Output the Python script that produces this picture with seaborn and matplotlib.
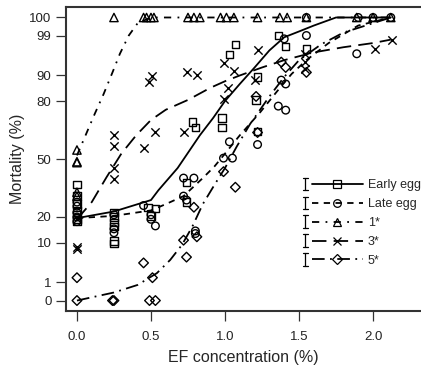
import numpy as np
import pandas as pd
import matplotlib
matplotlib.use("Agg")
import matplotlib.pyplot as plt
import seaborn as sns
from matplotlib.lines import Line2D
from matplotlib.legend_handler import HandlerLine2D

sns.set_theme(style="ticks")
plt.rcParams["font.family"] = ["Liberation Sans", "DejaVu Sans"]

# ---- observed points (x = EF %, y = mortality %) ----
early_x = [0, 0, 0, 0, 0, 0, 0, 0.25, 0.25, 0.25, 0.25, 0.25, 0.25, 0.48, 0.53, 0.5,
           0.74, 0.74, 0.78, 0.8, 0.98, 0.98, 1.03, 1.07, 1.22, 1.21, 1.22, 1.36, 1.41, 1.55]
early_y = [36, 30, 26, 23, 21, 19, 18, 22, 20, 17.5, 16, 10.5, 9.7, 24.4, 24, 20.5,
           37, 27, 70, 67, 72, 67, 95.9, 97.8, 89.5, 80.5, 65, 99, 97.4, 97]

late_x = [0, 0, 0, 0, 0, 0.25, 0.25, 0.25, 0.45, 0.5, 0.5, 0.53, 0.72, 0.79, 0.72, 0.74,
          0.8, 0.8, 0.99, 1.05, 1.03, 1.22, 1.36, 1.41, 1.38, 1.41, 1.4, 1.55, 1.55, 1.89,
          1.9, 2.0, 2.12]
late_y = [27, 25, 22, 20, 18, 21, 15, 13.5, 25.3, 21, 19, 16.2, 39.5, 39.5, 30, 28,
          14.2, 13.2, 50.5, 50.5, 59.5, 58, 77.7, 75.8, 88.4, 87, 98.6, 99, 100, 96,
          100, 100, 100]

one_x = [0, 0, 0, 0, 0, 0.25, 0.45, 0.47, 0.5, 0.52, 0.75, 0.79, 0.83, 0.97, 1.01, 1.06,
         1.22, 1.37, 1.42, 1.55, 1.89, 2.0, 2.12]
one_y = [55, 48.5, 48, 32, 30, 100, 100, 100, 100, 100, 100, 100, 100, 100, 100, 100,
         100, 100, 100, 100, 100, 100, 100]

three_x = [0, 0, 0, 0.25, 0.25, 0.25, 0.25, 0.45, 0.53, 0.49, 0.51, 0.74, 0.81, 0.72,
           0.99, 1.06, 1.02, 0.99, 1.22, 1.2, 1.54, 1.54, 1.54, 2.01, 2.13]
three_y = [8.5, 8.0, 19, 63, 57, 45, 39, 56, 65, 87.6, 89.7, 91, 90, 65,
           93.8, 91.5, 85.4, 81, 96.8, 88.4, 96, 94, 92, 97, 98.5]

five_x = [0, 0, 0.24, 0.25, 0.45, 0.49, 0.53, 0.51, 0.72, 0.74, 0.81, 0.79, 0.99, 1.07,
          1.22, 1.21, 1.38, 1.41, 1.55]
five_y = [1.6, 0, 0, 0, 4.3, 0, 0, 1.6, 10.8, 5.7, 12, 24.5, 43, 34.6,
          64.5, 82, 94, 92.5, 91]

# ---- fitted curves ----
early_fit_x = [0, 0.25, 0.5, 0.55, 0.68, 0.83, 0.92, 1.0, 1.1, 1.2, 1.3, 1.4, 1.5, 1.6, 1.75, 2.12]
early_fit_y = [19.5, 22.5, 28, 33, 45, 63, 72, 80, 87, 92.5, 96.7, 98.8, 99.4, 99.8, 100, 100]

late_fit_x = [0, 0.25, 0.5, 0.6, 0.72, 0.85, 0.93, 1.0, 1.1, 1.24, 1.35, 1.45, 1.55, 1.7, 1.9, 2.12]
late_fit_y = [19.5, 20.5, 23, 26, 30, 39.5, 46, 53, 63, 75, 84, 90.5, 94.5, 98, 99.8, 100]

one_fit_x = [0, 0.12, 0.18, 0.24, 0.29, 0.35, 0.41, 0.5, 1.0, 1.5, 2.12]
one_fit_y = [52, 74, 83, 91, 96, 99, 99.9, 100, 100, 100, 100]

three_fit_x = [0, 0.1, 0.2, 0.3, 0.4, 0.5, 0.6, 0.75, 0.9, 1.0, 1.1, 1.25, 1.4, 1.6, 1.8, 2.0, 2.12]
three_fit_y = [19, 27, 40, 53, 63, 71, 76, 80.5, 85.5, 88, 90, 92.5, 94.5, 96.3, 97.3, 98, 98.5]

five_fit_x = [0, 0.25, 0.41, 0.54, 0.63, 0.71, 0.78, 0.85, 0.93, 1.0, 1.08, 1.17, 1.3, 1.4,
              1.5, 1.65, 1.8, 1.95, 2.12]
five_fit_y = [0, 0.2, 0.75, 2.3, 5, 9.3, 16, 26, 36, 45, 57, 69, 82, 89.5,
              94.5, 97.8, 99.3, 99.8, 100]

groups = ["Early egg", "Late egg", "1*", "3*", "5*"]
y_ticks = [0, 1, 10, 20, 50, 80, 90, 99, 100]


def asin_t(p):
    return np.arcsin(np.sqrt(np.asarray(p, dtype=float) / 100.0))


pts = {
    "Early egg": (early_x, early_y),
    "Late egg": (late_x, late_y),
    "1*": (one_x, one_y),
    "3*": (three_x, three_y),
    "5*": (five_x, five_y),
}
fits = {
    "Early egg": (early_fit_x, early_fit_y),
    "Late egg": (late_fit_x, late_fit_y),
    "1*": (one_fit_x, one_fit_y),
    "3*": (three_fit_x, three_fit_y),
    "5*": (five_fit_x, five_fit_y),
}
markers = {"Early egg": "s", "Late egg": "o", "1*": "^", "3*": "x", "5*": "D"}
msizes = {"Early egg": 28, "Late egg": 30, "1*": 36, "3*": 36, "5*": 24}
lstyles = {
    "Early egg": "-",
    "Late egg": (0, (3.5, 3)),
    "1*": (0, (4, 3.5, 1, 3.5)),
    "3*": (0, (8, 4)),
    "5*": (0, (7, 3, 1, 3)),
}

fig = plt.figure(figsize=(4.21, 3.68), dpi=100)
ax = fig.add_axes([66 / 421, 57 / 368, 355 / 421, 304 / 368])

for g in groups:
    fx, fy = fits[g]
    fdf = pd.DataFrame({"x": fx, "t": asin_t(fy)})
    sns.lineplot(data=fdf, x="x", y="t", ax=ax, color="black", linewidth=1.3,
                 linestyle=lstyles[g], estimator=None, sort=False)
    px, py = pts[g]
    pdf = pd.DataFrame({"x": px, "t": asin_t(py)})
    if markers[g] == "x":
        sns.scatterplot(data=pdf, x="x", y="t", ax=ax, marker="x", s=msizes[g],
                        color="black", linewidth=1.0)
    else:
        sns.scatterplot(data=pdf, x="x", y="t", ax=ax, marker=markers[g], s=msizes[g],
                        color="black", facecolor="none", edgecolor="black", linewidth=1.0)

ax.set_xlim(-0.074, 2.324)
ax.set_ylim(-0.058, 1.629)
ax.set_xticks([0, 0.5, 1.0, 1.5, 2.0])
ax.set_xticklabels(["0.0", "0.5", "1.0", "1.5", "2.0"])
ax.set_yticks(asin_t(y_ticks))
ax.set_yticklabels([str(v) for v in y_ticks])
ax.tick_params(axis="both", labelsize=9.5, length=7.5, width=0.9, color="#333333",
               labelcolor="#222222")
ax.tick_params(axis="x", pad=7)
ax.tick_params(axis="y", pad=3)
ax.set_xlabel("EF concentration (%)", fontsize=11.5, labelpad=5)
ax.set_ylabel("Mortality (%)", fontsize=11.5, labelpad=3)
for side in ["left", "bottom", "top"]:
    ax.spines[side].set_linewidth(1.5)
    ax.spines[side].set_color("#333333")
ax.spines["right"].set_visible(False)


class HandlerErrLine(HandlerLine2D):
    def create_artists(self, legend, orig, xd, yd, w, h, fs, trans):
        y = h / 2 - yd
        x0 = -xd
        bh = 4.5
        parts = [
            Line2D([x0, x0], [y - bh, y + bh]),
            Line2D([x0 - 1.8, x0 + 1.8], [y + bh, y + bh]),
            Line2D([x0 - 1.8, x0 + 1.8], [y - bh, y - bh]),
        ]
        for p in parts:
            p.set_color("black")
            p.set_linewidth(0.9)
        ln = Line2D([x0 + 4.5, x0 + w], [y, y])
        ln.update_from(orig)
        ln.set_marker("")
        mk = Line2D([x0 + 4.5 + (w - 4.5) / 2], [y])
        mk.update_from(orig)
        mk.set_linestyle("none")
        arts = parts + [ln, mk]
        for a in arts:
            a.set_transform(trans)
        return arts


handles = []
for g in groups:
    handles.append(Line2D([], [], color="black", linewidth=1.3, linestyle=lstyles[g],
                          marker=markers[g], markersize=5.5, markerfacecolor="none",
                          markeredgecolor="black", markeredgewidth=0.9))
fig.legend(handles, groups, loc="center left", bbox_to_anchor=(299 / 421, 1 - 223 / 368),
           frameon=False, fontsize=9, handlelength=4.6, handletextpad=0.4,
           labelspacing=0.55, borderpad=0,
           handler_map={Line2D: HandlerErrLine()})

fig.savefig("out.png", dpi=100)
